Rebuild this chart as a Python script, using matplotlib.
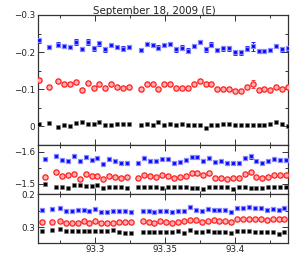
import matplotlib
matplotlib.use("Agg")
import matplotlib.pyplot as plt
from matplotlib.ticker import MultipleLocator, FixedLocator

title = "September 18, 2009 (E)"

# ---- top panel ----
x_top = [93.2602, 93.2671, 93.2738, 93.2781, 93.2821, 93.2864, 93.2905, 93.2948, 93.2991,
         93.3031, 93.3074, 93.3116, 93.3157, 93.3200, 93.3243,
         93.3329, 93.3369, 93.3412, 93.3452, 93.3495, 93.3538, 93.3579, 93.3621, 93.3664,
         93.3705, 93.3748, 93.3791, 93.3831, 93.3874, 93.3916, 93.3957, 93.4000, 93.4043,
         93.4084, 93.4126, 93.4169, 93.4209, 93.4252, 93.4295, 93.4338, 93.4379]
top_blue = [-0.232, -0.214, -0.220, -0.216, -0.214, -0.227, -0.208, -0.227, -0.210, -0.224,
            -0.207, -0.219, -0.213, -0.209, -0.214,
            -0.205, -0.222, -0.219, -0.212, -0.219, -0.222, -0.207, -0.212, -0.204, -0.217,
            -0.227, -0.207, -0.220, -0.205, -0.210, -0.210, -0.199, -0.199, -0.209, -0.215,
            -0.203, -0.203, -0.205, -0.217, -0.207, -0.210]
top_blue_err = [0.007, 0.006, 0.006, 0.006, 0.006, 0.007, 0.006, 0.007, 0.006, 0.007,
                0.006, 0.006, 0.006, 0.006, 0.006,
                0.006, 0.006, 0.006, 0.006, 0.006, 0.006, 0.006, 0.006, 0.006, 0.006,
                0.006, 0.006, 0.006, 0.006, 0.006, 0.006, 0.006, 0.006, 0.006, 0.011,
                0.006, 0.006, 0.006, 0.006, 0.006, 0.006]
top_red = [-0.124, -0.105, -0.122, -0.114, -0.114, -0.118, -0.097, -0.117, -0.104, -0.113,
           -0.104, -0.115, -0.105, -0.104, -0.105,
           -0.101, -0.113, -0.113, -0.099, -0.114, -0.114, -0.104, -0.104, -0.102, -0.114,
           -0.122, -0.113, -0.114, -0.101, -0.101, -0.101, -0.096, -0.095, -0.105, -0.114,
           -0.097, -0.100, -0.097, -0.105, -0.101, -0.105]
top_red_err = [0.005] * 34 + [0.010] + [0.005] * 6
top_black = [-0.005, -0.008, 0.002, -0.003, 0.000, -0.009, -0.010, -0.007, -0.005, -0.010,
             -0.002, -0.002, -0.007, -0.005, -0.007,
             -0.004, -0.005, -0.004, -0.010, -0.004, -0.007, -0.002, -0.007, -0.002, -0.003,
             -0.004, 0.005, -0.004, -0.003, -0.007, -0.006, -0.002, -0.003, -0.003, -0.002,
             -0.003, -0.002, -0.007, -0.011, -0.005, -0.001]

# ---- middle panel ----
x_mid = [93.2643, 93.2719, 93.2762, 93.2805, 93.2848, 93.2891, 93.2934, 93.2976, 93.3016,
         93.3057, 93.3100, 93.3143, 93.3186, 93.3229,
         93.3309, 93.3352, 93.3395, 93.3436, 93.3479, 93.3519, 93.3562, 93.3605, 93.3648,
         93.3691, 93.3731, 93.3774, 93.3816, 93.3857, 93.3900, 93.3943, 93.3984, 93.4026,
         93.4069, 93.4112, 93.4152, 93.4193, 93.4238, 93.4279, 93.4321, 93.4364]
mid_blue = [-1.5773, -1.5876, -1.5742, -1.5722, -1.5876, -1.5711, -1.5825, -1.5742, -1.5814,
            -1.5619, -1.5763, -1.5711, -1.5660, -1.5660,
            -1.5649, -1.5794, -1.5722, -1.5722, -1.5773, -1.5773, -1.5639, -1.5680, -1.5742,
            -1.5825, -1.5825, -1.5711, -1.5814, -1.5670, -1.5711, -1.5639, -1.5639, -1.5639,
            -1.5814, -1.5866, -1.5701, -1.5639, -1.5711, -1.5763, -1.5742, -1.5742]
mid_blue_err = [0.004] * 32 + [0.006, 0.008] + [0.004] * 6
mid_red = [-1.5206, -1.5361, -1.5247, -1.5278, -1.5309, -1.5155, -1.5299, -1.5247, -1.5258,
           -1.5144, -1.5247, -1.5206, -1.5196, -1.5206,
           -1.5175, -1.5278, -1.5247, -1.5206, -1.5289, -1.5258, -1.5186, -1.5216, -1.5247,
           -1.5330, -1.5330, -1.5289, -1.5330, -1.5196, -1.5196, -1.5165, -1.5186, -1.5186,
           -1.5309, -1.5371, -1.5206, -1.5196, -1.5227, -1.5268, -1.5268, -1.5268]
mid_red_err = [0.004] * 32 + [0.004, 0.007] + [0.004] * 6
mid_black = [-1.5000, -1.4907, -1.4907, -1.4866, -1.4969, -1.4979, -1.4938, -1.4928, -1.4969,
             -1.4887, -1.4918, -1.4918, -1.4897, -1.4887,
             -1.4897, -1.4918, -1.4918, -1.4907, -1.4876, -1.4918, -1.4897, -1.4897, -1.4897,
             -1.4887, -1.4887, -1.4856, -1.4897, -1.4897, -1.4907, -1.4907, -1.4856, -1.4897,
             -1.4907, -1.4876, -1.4887, -1.4887, -1.4907, -1.4897, -1.4897, -1.4897]

# ---- bottom panel ----
x_bot = [93.2619, 93.2691, 93.2752, 93.2793, 93.2836, 93.2876, 93.2919, 93.2959, 93.3002,
         93.3045, 93.3088, 93.3129, 93.3171, 93.3214, 93.3257,
         93.3341, 93.3384, 93.3424, 93.3466, 93.3509, 93.3552, 93.3593, 93.3636, 93.3679,
         93.3719, 93.3762, 93.3805, 93.3848, 93.3888, 93.3931, 93.3974, 93.4014, 93.4057,
         93.4100, 93.4143, 93.4184, 93.4226, 93.4269, 93.4312, 93.4352]
bot_blue = [0.2475, 0.2455, 0.2424, 0.2505, 0.2495, 0.2485, 0.2465, 0.2515, 0.2455, 0.2525,
            0.2525, 0.2505, 0.2505, 0.2515, 0.2545,
            0.2495, 0.2505, 0.2535, 0.2495, 0.2495, 0.2535, 0.2505, 0.2515, 0.2384, 0.2465,
            0.2515, 0.2434, 0.2465, 0.2475, 0.2475, 0.2535, 0.2424, 0.2424, 0.2384, 0.2424,
            0.2414, 0.2475, 0.2444, 0.2475, 0.2414]
bot_red = [0.2828, 0.2828, 0.2818, 0.2879, 0.2859, 0.2859, 0.2808, 0.2869, 0.2818, 0.2859,
           0.2879, 0.2879, 0.2838, 0.2838, 0.2848,
           0.2818, 0.2838, 0.2869, 0.2808, 0.2838, 0.2869, 0.2838, 0.2808, 0.2778, 0.2788,
           0.2828, 0.2798, 0.2788, 0.2818, 0.2818, 0.2828, 0.2747, 0.2747, 0.2747, 0.2758,
           0.2737, 0.2778, 0.2758, 0.2758, 0.2758]
bot_black = [0.3111, 0.3091, 0.3061, 0.3101, 0.3101, 0.3101, 0.3111, 0.3111, 0.3101, 0.3121,
             0.3121, 0.3081, 0.3141, 0.3162, 0.3162,
             0.3141, 0.3141, 0.3141, 0.3152, 0.3131, 0.3131, 0.3121, 0.3172, 0.3081, 0.3131,
             0.3152, 0.3101, 0.3141, 0.3141, 0.3141, 0.3182, 0.3121, 0.3111, 0.3111, 0.3131,
             0.3141, 0.3141, 0.3141, 0.3192, 0.3141]

x_ticks = [93.3, 93.35, 93.4]
x_tick_labels = ["93.3", "93.35", "93.4"]

BLUE = "#0000ff"
BLUE_HALO = "#8888ff"
RED = "#ff2020"
RED_HALO = "#ffb0b0"
BLACK = "#000000"

plt.rcParams['font.family'] = ['DejaVu Sans']
fig = plt.figure(figsize=(3.05, 2.77), dpi=100)

L, R = 37.7 / 305, 288.3 / 305
def fy(px):
    return 1 - px / 277

ax_top = fig.add_axes([L, fy(144.7), R - L, fy(15) - fy(144.7)])
ax_mid = fig.add_axes([L, fy(194.3), R - L, fy(144.7) - fy(194.3)])
ax_bot = fig.add_axes([L, fy(242.7), R - L, fy(194.3) - fy(242.7)])

def blue_pts(ax, x, y, err=None):
    if err is not None:
        ax.errorbar(x, y, yerr=err, fmt='none', ecolor=BLUE, elinewidth=0.7,
                    capsize=1.2, capthick=0.6, zorder=3)
    ax.plot(x, y, ls='none', marker='s', ms=3.0, mfc=BLUE, mec=BLUE_HALO, mew=0.9, zorder=4)

def red_pts(ax, x, y, err=None):
    if err is not None:
        ax.errorbar(x, y, yerr=err, fmt='none', ecolor=RED, elinewidth=0.6,
                    capsize=1.2, capthick=0.6, zorder=3)
    ax.plot(x, y, ls='none', marker='o', ms=3.8, mfc=RED_HALO, mec=RED, mew=0.9, zorder=4)

def black_pts(ax, x, y):
    ax.plot(x, y, ls='none', marker='s', ms=2.2, mfc=BLACK, mec='#777777', mew=0.4, zorder=4)

blue_pts(ax_top, x_top, top_blue, top_blue_err)
red_pts(ax_top, x_top, top_red, top_red_err)
black_pts(ax_top, x_top, top_black)

blue_pts(ax_mid, x_mid, mid_blue, mid_blue_err)
red_pts(ax_mid, x_mid, mid_red, mid_red_err)
black_pts(ax_mid, x_mid, mid_black)

blue_pts(ax_bot, x_bot, bot_blue)
red_pts(ax_bot, x_bot, bot_red)
black_pts(ax_bot, x_bot, bot_black)

ax_top.set_ylim(0.05, -0.3)
ax_top.set_yticks([-0.3, -0.2, -0.1, 0.0])
ax_top.set_yticklabels(["\u22120.3", "\u22120.2", "\u22120.1", "0"])
ax_top.yaxis.set_minor_locator(MultipleLocator(0.05))

ax_mid.set_ylim(-1.468, -1.622)
ax_mid.set_yticks([-1.6, -1.5])
ax_mid.set_yticklabels(["\u22121.6", "\u22121.5"])
ax_mid.yaxis.set_minor_locator(MultipleLocator(0.05))

ax_bot.set_ylim(0.3467, 0.2)
ax_bot.set_yticks([0.2, 0.3])
ax_bot.set_yticklabels(["0.2", "0.3"])
ax_bot.yaxis.set_minor_locator(MultipleLocator(0.05))

for ax in (ax_top, ax_mid, ax_bot):
    ax.set_xlim(93.2591, 93.4381)
    ax.set_xticks(x_ticks)
    ax.xaxis.set_minor_locator(FixedLocator([93.275, 93.325, 93.375, 93.425]))
    ax.tick_params(which='both', direction='in', top=True, right=True, labelsize=6.3,
                   width=0.7, colors='#333333', labelcolor='#222222', pad=2)
    ax.tick_params(which='major', length=4)
    ax.tick_params(which='minor', length=2.2)
    for s in ax.spines.values():
        s.set_linewidth(0.9)
        s.set_color('#333333')

ax_top.set_xticklabels([])
ax_mid.set_xticklabels([])
ax_bot.set_xticklabels(x_tick_labels)

fig.text(154 / 305, fy(11.5), title, ha='center', va='center', fontsize=7.4, color='#222222')

fig.savefig("out.png", dpi=100)
